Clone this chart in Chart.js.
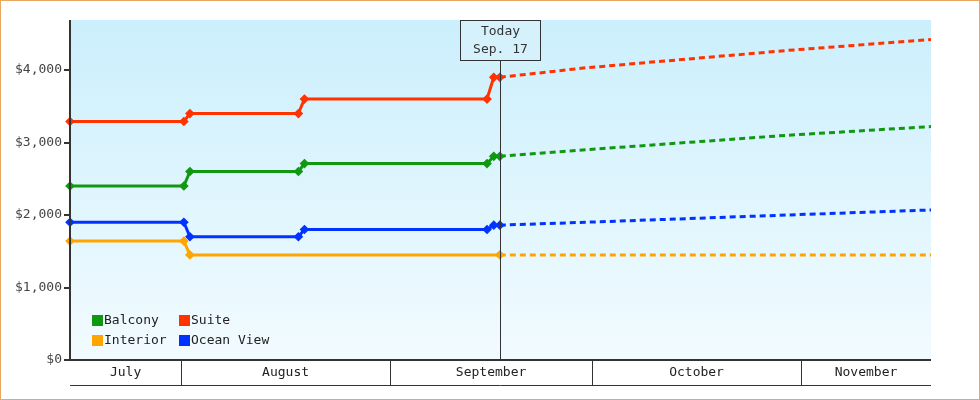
<!DOCTYPE html>
<html><head><meta charset="utf-8">
<script src="https://cdn.jsdelivr.net/npm/chart.js@4"></script>
<style>html,body{margin:0;padding:0;background:#fff}#w{width:978px;height:398px;border:1px solid #e8a860;position:relative}canvas{position:absolute;left:-1px;top:-1px}</style>
</head><body><div id="w"><canvas id="c" width="980" height="400"></canvas></div>
<script>
// x values: days relative to Aug 1 (Aug 1 = 0)
const xMin = -16.5, xMax = 111.3, todayX = 47.3;
const months = ["July","August","September","October","November"];
const monthStarts = [-16.5, 0, 31, 61, 92];
const seriesNames = ["Balcony","Suite","Interior","Ocean View"];
const colors = ["#109910","#ff3300","#ffa500","#0033ff"];
const histX = {
  Balcony:[-16.5,0.4,1.3,17.4,18.3,45.4,46.4,47.3],
  Suite:[-16.5,0.4,1.3,17.4,18.3,45.4,46.4,47.3],
  Interior:[-16.5,0.4,1.3,47.3],
  "Ocean View":[-16.5,0.4,1.3,17.4,18.3,45.4,46.4,47.3]
};
const histY = {
  Balcony:[2400,2400,2600,2600,2710,2710,2810,2810],
  Suite:[3290,3290,3400,3400,3600,3600,3900,3900],
  Interior:[1640,1640,1450,1450],
  "Ocean View":[1900,1900,1700,1700,1800,1800,1860,1860]
};
const fcX = [47.3,60,75,90,111.3];
const fcY = {
  Balcony:[2810,2900,3000,3100,3220],
  Suite:[3900,4030,4150,4270,4420],
  Interior:[1450,1450,1450,1450,1450],
  "Ocean View":[1860,1900,1950,2000,2070]
};
const yTicks = [0,1000,2000,3000,4000];
const todayLabel = ["Today","Sep. 17"];
const FONT = "'DejaVu Sans Mono', monospace";

const datasets = [];
seriesNames.forEach((n,i)=>{
  datasets.push({label:n,data:histX[n].map((x,j)=>({x,y:histY[n][j]})),borderColor:colors[i],backgroundColor:colors[i],
    borderWidth:3,pointStyle:'rectRot',pointRadius:3.8,pointHoverRadius:3.8,pointBorderWidth:1.5,tension:0,clip:false});
  datasets.push({label:n+' forecast',data:fcX.map((x,j)=>({x,y:fcY[n][j]})),borderColor:colors[i],borderWidth:3,borderDash:[6,4],pointRadius:0,tension:0});
});

const deco = {
  id:'deco',
  beforeDraw(ch){
    const {ctx,chartArea:a}=ch;
    const g=ctx.createLinearGradient(0,a.top,0,a.bottom);
    g.addColorStop(0,'#cbeffc');g.addColorStop(1,'#f2fbff');
    ctx.fillStyle=g;ctx.fillRect(a.left,a.top,a.right-a.left,a.bottom-a.top);
  },
  afterDatasetsDraw(ch){
    const {ctx,chartArea:a,scales:{x}}=ch;
    ctx.save();
    ctx.strokeStyle='#333';ctx.lineWidth=1;
    ctx.beginPath();ctx.moveTo(a.left,385.5);ctx.lineTo(a.right,385.5);ctx.stroke();
    ctx.font='13px '+FONT;ctx.fillStyle='#222';ctx.textAlign='center';ctx.textBaseline='middle';
    months.forEach((m,i)=>{
      const l=Math.max(a.left,x.getPixelForValue(monthStarts[i]));
      const r=i<months.length-1?x.getPixelForValue(monthStarts[i+1]):a.right;
      if(i>0){ctx.beginPath();ctx.moveTo(Math.round(l)+0.5,a.bottom);ctx.lineTo(Math.round(l)+0.5,385);ctx.stroke();}
      ctx.fillText(m,(l+r)/2,373);
    });
    const tx=Math.round(x.getPixelForValue(todayX))+0.5;
    ctx.beginPath();ctx.moveTo(tx,60);ctx.lineTo(tx,a.bottom);ctx.stroke();
    ctx.fillStyle='#d4f1fc';ctx.fillRect(tx-40,20.5,80,40);
    ctx.strokeRect(tx-40,20.5,80,40);
    ctx.fillStyle='#333';
    ctx.fillText(todayLabel[0],tx,32);ctx.fillText(todayLabel[1],tx,50);
    ctx.textAlign='left';
    seriesNames.forEach((n,i)=>{
      const cx=a.left+22+(i%2)*87, cy=320+Math.floor(i/2)*20;
      ctx.fillStyle=colors[i];ctx.fillRect(cx,cy-5,11,11);
      ctx.fillStyle='#222';ctx.fillText(n,cx+12,cy+1);
    });
    ctx.strokeStyle='#333';ctx.lineWidth=2;
    ctx.beginPath();ctx.moveTo(a.left,a.top);ctx.lineTo(a.left,a.bottom);ctx.lineTo(a.right,a.bottom);ctx.stroke();
    ctx.restore();
  }
};

new Chart(document.getElementById('c'),{
  type:'line',
  data:{datasets},
  options:{
    responsive:false,animation:false,
    layout:{padding:{top:20,right:49,left:0,bottom:0}},
    plugins:{legend:{display:false},tooltip:{enabled:false}},
    scales:{
      x:{type:'linear',min:xMin,max:xMax,grid:{display:false},border:{display:false},ticks:{display:false},
        afterFit(s){s.height=40;}},
      y:{min:0,max:4690,grid:{display:false,drawTicks:false},border:{display:false},
        afterBuildTicks(s){s.ticks=yTicks.map(v=>({value:v}));},
        ticks:{font:{family:FONT,size:13},color:'#444',padding:8,callback:v=>'$'+v.toLocaleString('en-US')},
        afterFit(s){s.width=70;}}
    }
  },
  plugins:[deco,{id:'ticks',afterDraw(ch){const {ctx,chartArea:a,scales:{y}}=ch;ctx.save();ctx.strokeStyle='#333';ctx.lineWidth=2;
    yTicks.forEach(v=>{const p=Math.round(y.getPixelForValue(v));ctx.beginPath();ctx.moveTo(a.left-6,p);ctx.lineTo(a.left,p);ctx.stroke();});ctx.restore();}}]
});
</script></body></html>
